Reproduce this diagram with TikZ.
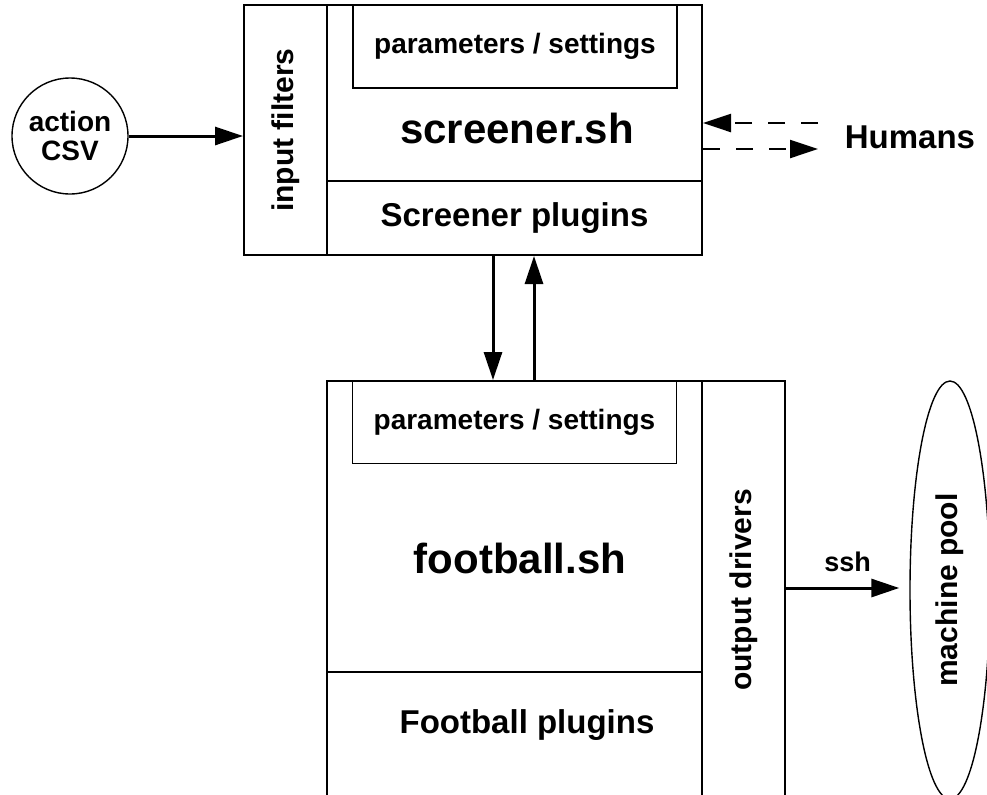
\documentclass[tikz,border=0pt]{standalone}
\usepackage{fontspec}
\setmainfont{Liberation Sans}
\usetikzlibrary{arrows.meta,shapes.geometric}

\tikzset{
  region/.style={draw,line width=1pt,inner sep=0pt},
  parambox/.style={draw,line width=0.7pt,inner sep=0pt,
    minimum width=162pt,minimum height=41.5pt,
    font=\bfseries\fontsize{14}{16}\selectfont},
  vlabel/.style={rotate=90,font=\bfseries\fontsize{15}{17}\selectfont},
  biglabel/.style={font=\bfseries\fontsize{21}{24}\selectfont},
  midlabel/.style={font=\bfseries\fontsize{16.5}{19}\selectfont},
  arr/.style={line width=1.5pt,-{Triangle[length=14pt,width=9pt]}},
  darr/.style={line width=1.2pt,dash pattern=on 8.5pt off 8pt,
    -{Triangle[length=14pt,width=9pt]}}
}

\begin{document}
\begin{tikzpicture}[x=0.5pt,y=-0.5pt,line cap=butt,line join=miter]

  \clip (0,0) rectangle (987,794);

  %-------------------------
  % screener.sh
  %-------------------------
  \node[region,minimum width=41.5pt,minimum height=125pt] (infilt) at (285.5,130) {};
  \node[vlabel] at (infilt) {input filters};

  \node[region,minimum width=187.5pt,minimum height=88pt] (scrmain) at (514.5,93) {};
  \node[region,minimum width=187.5pt,minimum height=37pt,midlabel] (scrplug) at (514.5,218) {Screener plugins};
  \node[parambox] (scrpar) at (515,46.5) {parameters / settings};
  \node[biglabel] (scrname) at (517,128) {screener.sh};

  %-------------------------
  % action CSV
  %-------------------------
  \node[draw,circle,line width=0.7pt,minimum size=58pt,inner sep=0pt,align=center,
        font=\bfseries\fontsize{14}{14.5}\selectfont] (csv) at (70,136) {action\\CSV};
  \draw[arr] (csv.east) -- (csv.east -| infilt.west);

  %-------------------------
  % Humans
  %-------------------------
  \node[midlabel] (humans) at (910,137) {Humans};
  \coordinate (hin)  at (818,123);
  \coordinate (hout) at (818,149);
  \draw[darr] (hin) -- (hin -| scrmain.east);
  \draw[darr] (hout -| scrmain.east) -- (hout);

  %-------------------------
  % football.sh
  %-------------------------
  \node[region,minimum width=187.5pt,minimum height=145.5pt] (fbmain) at (514.5,526.5) {};
  \node[region,minimum width=187.5pt,minimum height=89pt] (fbplug) at (514.5,761) {};
  \node[region,minimum width=41.5pt,minimum height=234.5pt] (outdrv) at (743.5,615.5) {};
  \node[parambox] (fbpar) at (514.5,422) {parameters / settings};
  \node[biglabel] (fbname) at (520,558) {football.sh};
  \node[midlabel] (fbpluglabel) at (527,725) {Football plugins};
  \node[vlabel] (outlabel) at (743.5,590) {output drivers};

  % screener <-> football
  \draw[arr] ([xshift=-10.75pt]scrplug.south) -- ([xshift=-10.75pt]fbmain.north);
  \draw[arr] ([xshift=9.75pt]fbmain.north) -- ([xshift=9.75pt]scrplug.south);

  %-------------------------
  % machine pool
  %-------------------------
  \node[draw,ellipse,line width=0.7pt,minimum width=40pt,minimum height=209pt,inner sep=0pt] (pool) at (950,590) {};
  \node[vlabel] at (pool) {machine pool};

  \draw[arr,shorten >=5pt] (outdrv.east |- 0,588) -- (pool.west |- 0,588)
    node[midway,above=4pt,font=\bfseries\fontsize{13.5}{15}\selectfont] {ssh};

\end{tikzpicture}
\end{document}
